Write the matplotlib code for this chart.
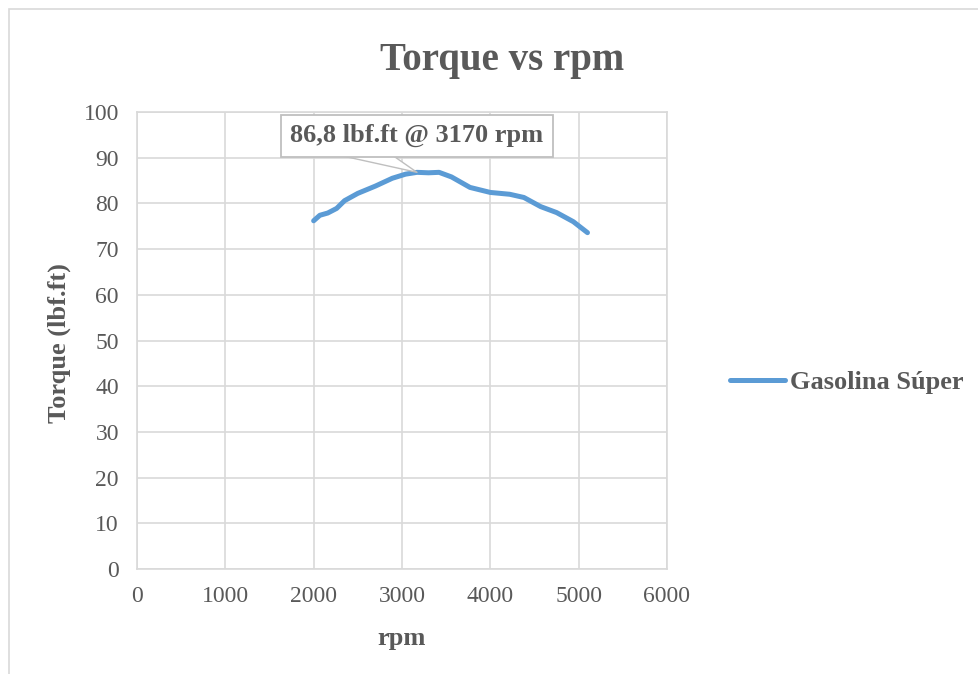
#!/usr/bin/env python3
import numpy as np
import matplotlib
matplotlib.use("Agg")
import matplotlib.pyplot as plt
from matplotlib.patches import Rectangle

# values
rpm = [2000, 2070, 2160, 2260, 2350, 2500, 2700, 2890, 3040, 3170, 3300,
       3420, 3560, 3770, 4000, 4220, 4380, 4570, 4750, 4940, 5100]
torque = [76.2, 77.4, 77.9, 78.9, 80.6, 82.2, 83.8, 85.5, 86.4, 86.8, 86.7,
          86.8, 85.8, 83.5, 82.4, 82.0, 81.3, 79.3, 78.0, 76.0, 73.6]
x_ticks = [0, 1000, 2000, 3000, 4000, 5000, 6000]
y_ticks = [0, 10, 20, 30, 40, 50, 60, 70, 80, 90, 100]
series_name = "Gasolina Súper"
peak_label = "86,8 lbf.ft @ 3170 rpm"

TEXT = "#595959"
GRID = "#D9D9D9"
LINE = "#5B9BD5"


def main():
    plt.rcParams["font.family"] = ["Liberation Serif", "DejaVu Serif"]

    fig = plt.figure(figsize=(9.79, 6.74), dpi=100)
    ax = fig.add_axes([0.1399, 0.1558, 0.5414, 0.678])

    ax.plot(rpm, torque, color=LINE, lw=3.6, solid_capstyle="round",
            solid_joinstyle="round", label=series_name, zorder=3)

    ax.set_xlim(x_ticks[0], x_ticks[-1])
    ax.set_ylim(y_ticks[0], y_ticks[-1])
    ax.set_xticks(x_ticks)
    ax.set_yticks(y_ticks)
    ax.grid(True, color=GRID, lw=1.2, zorder=0)
    for sp in ax.spines.values():
        sp.set_color(GRID)
        sp.set_linewidth(1.2)
    ax.tick_params(length=0, labelsize=17, labelcolor=TEXT)
    ax.tick_params(axis="x", pad=12)
    ax.tick_params(axis="y", pad=13)

    ax.set_xlabel("rpm", fontsize=19, fontweight="bold", color=TEXT)
    ax.set_ylabel("Torque (lbf.ft)", fontsize=19, fontweight="bold", color=TEXT)
    ax.xaxis.set_label_coords(0.5, -0.128)
    ax.yaxis.set_label_coords(-0.125, 0.494)

    # callout on the peak
    i = int(np.argmax(torque))
    ax.annotate(peak_label, xy=(rpm[i], torque[i]), xytext=(rpm[i], 94.8),
                ha="center", va="center", fontsize=19, fontweight="bold",
                color=TEXT, zorder=4,
                bbox=dict(boxstyle="square,pad=0.36", fc="white",
                          ec="#BFBFBF", lw=1.3),
                arrowprops=dict(arrowstyle="wedge,tail_width=1.3",
                                mutation_scale=20, fc="white", ec="#BFBFBF",
                                lw=1.0, relpos=(0.17, 0.5), patchA=None,
                                shrinkA=0, shrinkB=0))

    fig.text(0.513, 0.91, "Torque vs rpm", ha="center", va="center",
             fontsize=28, fontweight="bold", color=TEXT)

    leg = ax.legend(loc="center left", bbox_to_anchor=(1.119, 0.409),
                    frameon=False, fontsize=19, handlelength=2.08,
                    handletextpad=0.19, borderpad=0, borderaxespad=0)
    for t in leg.get_texts():
        t.set_color(TEXT)
        t.set_fontweight("bold")

    # chart area border
    fig.patches.append(Rectangle((9 / 979, -0.02), 1.0, 1 - 9 / 674 + 0.02,
                                 transform=fig.transFigure, fill=False,
                                 ec=GRID, lw=1.2))

    fig.savefig("out.png", dpi=100)
    plt.close(fig)


if __name__ == "__main__":
    main()
